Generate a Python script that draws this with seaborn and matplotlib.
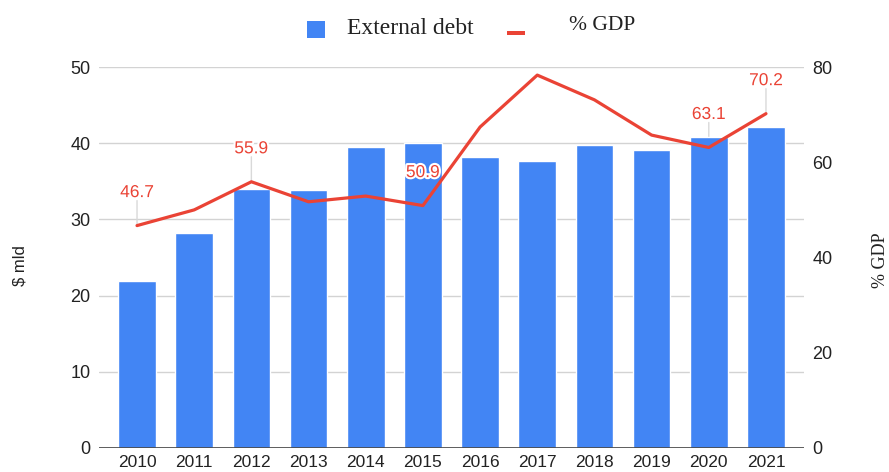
import numpy as np
import pandas as pd
import matplotlib
matplotlib.use("Agg")
import matplotlib.pyplot as plt
import matplotlib.patheffects as pe
from matplotlib.patches import Rectangle
import seaborn as sns

years = ["2010", "2011", "2012", "2013", "2014", "2015",
         "2016", "2017", "2018", "2019", "2020", "2021"]
external_debt = [21.9, 28.2, 34.0, 33.9, 39.5, 40.0, 38.2, 37.7, 39.8, 39.1, 40.8, 42.1]
pct_gdp = [46.7, 50.0, 55.9, 51.7, 52.9, 50.9, 67.4, 78.3, 73.1, 65.7, 63.1, 70.2]
labelled_years = ["2010", "2012", "2015", "2020", "2021"]

BLUE = "#4285F4"
RED = "#EA4335"
GRID = "#d3d3d3"
TXT = "#222222"

sns.set_theme(style="white")
plt.rcParams["font.family"] = ["Liberation Sans", "DejaVu Sans"]

df = pd.DataFrame({"year": years, "debt": external_debt, "gdp": pct_gdp})
df["pos"] = np.arange(len(df))

W, H = 889, 472
fig = plt.figure(figsize=(W / 100, H / 100), dpi=100)
ax = fig.add_axes([99 / W, 1 - 448 / H, 705 / W, (448 - 67) / H])

sns.barplot(data=df, x="year", y="debt", color=BLUE, saturation=1,
            width=0.66, ax=ax, zorder=3)
ax.set_ylim(0, 50)
ax.set_xlim(-0.665, len(years) - 1 + 0.665)
ax.set_yticks(np.arange(0, 51, 10))
ax.yaxis.grid(True, color=GRID, linewidth=1, zorder=0)
ax.set_axisbelow(True)
for s in ax.spines.values():
    s.set_visible(False)
ax.axhline(0, color="#444444", linewidth=1.2, zorder=4)
ax.tick_params(axis="both", length=0, labelsize=13, colors=TXT)
ax.tick_params(axis="y", pad=6)
ax.tick_params(axis="x", labelsize=12.5, pad=5)
ax.set_xlabel("")
ax.set_ylabel("")
fig.text(20 / W, 1 - 266 / H, "$ mld", rotation=90, ha="center", va="center",
         fontsize=12, color=TXT)

ax2 = ax.twinx()
sns.lineplot(data=df, x="pos", y="gdp", color=RED, linewidth=2.3, ax=ax2,
             zorder=5)
ax2.set_ylim(0, 80)
ax2.set_xlim(ax.get_xlim())
ax2.set_yticks(np.arange(0, 81, 20))
ax2.grid(False)
for s in ax2.spines.values():
    s.set_visible(False)
ax2.tick_params(axis="y", length=0, labelsize=13, colors=TXT, pad=6)
ax2.set_ylabel("")
ax2.set_xlabel("")
fig.text(872 / W, 1 - 260 / H, "% GDP", rotation=90, ha="left", va="center",
         fontsize=13, color=TXT, family="Liberation Serif")

# value labels with thin leader lines (leaders sit behind the bars)
scale = 50 / 80
off_px = 33
for _, row in df[df["year"].isin(labelled_years)].iterrows():
    x, v = row["pos"], row["gdp"]
    ax.annotate("", xy=(x, v * scale), xytext=(0, off_px - 8),
                textcoords="offset pixels",
                arrowprops=dict(arrowstyle="-", color="#d9d9d9", lw=1,
                                shrinkA=0, shrinkB=0),
                zorder=1)
    ax2.annotate(f"{v:.1f}", xy=(x, v), xytext=(0, off_px),
                 textcoords="offset pixels", ha="center", va="center",
                 fontsize=12.5, color=RED, zorder=6,
                 path_effects=[pe.withStroke(linewidth=3, foreground="white")])

# legend row along the top
def fx(px):
    return px / W

def fy(px):
    return 1 - px / H

fig.patches.append(Rectangle((fx(307), fy(38)), 18 / W, 17 / H,
                             transform=fig.transFigure, facecolor=BLUE,
                             edgecolor="none"))
fig.text(fx(347), fy(28), "External debt", ha="left", va="center",
         fontsize=17, color=TXT, family="Liberation Serif")
fig.patches.append(Rectangle((fx(507), fy(34.5)), 18 / W, 3.5 / H,
                             transform=fig.transFigure, facecolor=RED,
                             edgecolor="none"))
fig.text(fx(569), fy(26), "% GDP", ha="left", va="center",
         fontsize=15.5, color=TXT, family="Liberation Serif")

fig.savefig("out.png", dpi=100)
